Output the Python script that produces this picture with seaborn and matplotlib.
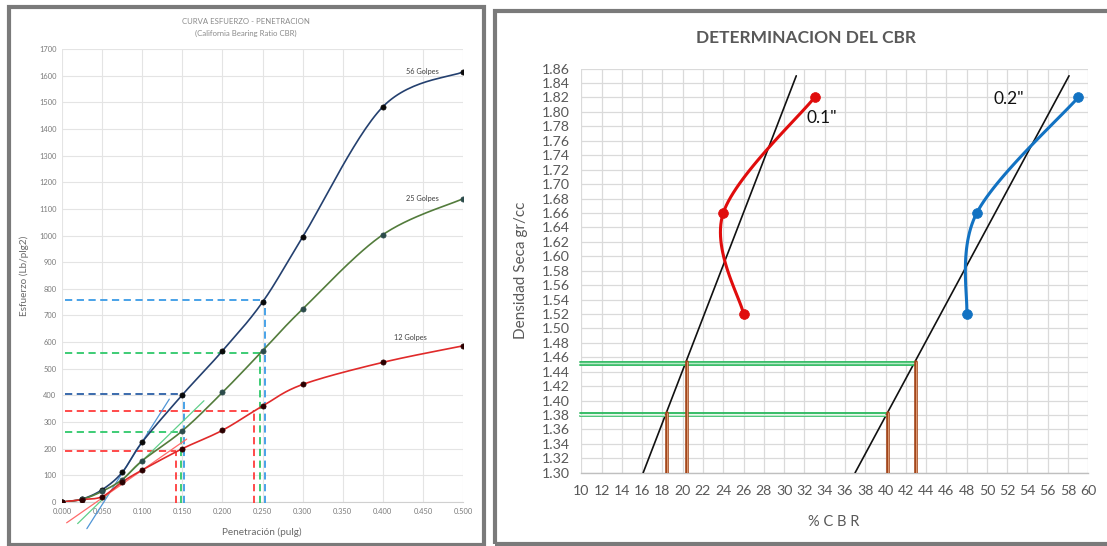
import matplotlib.pyplot as plt;
import numpy as np;
import pandas as pd;
import seaborn as sns;

from matplotlib.patches import Rectangle;

# ---------------- data: curva esfuerzo - penetracion ----------------
penetracion = [0.0, 0.025, 0.05, 0.075, 0.1, 0.15, 0.2, 0.25, 0.3, 0.4, 0.5];
esfuerzo_56 = [0, 11, 46, 111, 225, 402, 567, 750, 994, 1483, 1614];
esfuerzo_25 = [0, 10, 40, 84, 155, 267, 411, 567, 724, 1003, 1138];
esfuerzo_12 = [0, 9, 20, 75, 120, 200, 269, 360, 441, 524, 586];
golpes_labels = ['56 Golpes', '25 Golpes', '12 Golpes'];
golpes_label_pos = [(0.450, 1617), (0.449, 1138), (0.435, 618)];

# dashed reading lines (x, y) and tangent corrections ((x0, y0), (x1, y1))
lectura_x = [0.2525, 0.2467, 0.1522, 0.2400, 0.1480, 0.1418];
lectura_y = [759, 559, 407, 342, 264, 190];
tangente_56 = [(0.031, -100), (0.1338, 386)];
tangente_25 = [(0.0195, -81), (0.177, 380)];
tangente_12 = [(0.0058, -78), (0.1555, 236)];

# ---------------- data: determinacion del CBR ----------------
densidad = [1.52, 1.66, 1.82];
cbr_01 = [26, 24, 33];
cbr_02 = [48, 49, 59];
recta_01 = [(16.1, 1.30), (31.2, 1.85)];
recta_02 = [(37.0, 1.30), (58.1, 1.85)];
densidad_lectura = [1.4515, 1.3805];
cbr_lectura_01 = [20.44, 18.46];
cbr_lectura_02 = [43.0, 40.2];


def excel_smooth(xs, ys, sx, sy, n = 30):
    # bezier smoothing like the spreadsheet "smoothed line", done in pixel space
    p = np.column_stack([np.asarray(xs, float) * sx, np.asarray(ys, float) * sy]);
    out = [p[0]];
    t = np.linspace(0, 1, n)[1:, None];
    for i in range(len(p) - 1):
        p0 = p[max(i - 1, 0)]; p1 = p[i]; p2 = p[i + 1]; p3 = p[min(i + 2, len(p) - 1)];
        c1 = p1 + (p2 - p0) / 6; c2 = p2 - (p3 - p1) / 6;
        seg = (1 - t) ** 3 * p1 + 3 * (1 - t) ** 2 * t * c1 + 3 * (1 - t) * t ** 2 * c2 + t ** 3 * p2;
        out.extend(seg);
    out = np.array(out);
    return out[:, 0] / sx, out[:, 1] / sy;


sns.set_style('white');
plt.rcParams['font.family'] = ['Lato', 'DejaVu Sans'];

fig = plt.figure(figsize=(11.07, 5.46), dpi=100);
W = 1107; H = 546;

# gray frames of both panels
for (x0, y0, x1, y1) in [(9, 7, 484, 544.5), (495.3, 11.3, 1112, 544)]:
    fig.patches.append(Rectangle(
        (x0 / W, 1 - y1 / H), (x1 - x0) / W, (y1 - y0) / H,
        transform=fig.transFigure, fill=False, edgecolor='#7a7a7a', linewidth=3,
    ));

# ================= left chart =================
ax1 = fig.add_axes([62 / W, 1 - 502 / H, 401 / W, 453 / H]);
sx1 = 401 / 0.5; sy1 = 453 / 1700;

series = [
    (esfuerzo_56, '#24406f', '#0a0a0a'),
    (esfuerzo_25, '#537c3c', '#2c4b4b'),
    (esfuerzo_12, '#e02a2a', '#2a0000'),
];
for values, line_color, marker_color in series:
    cx, cy = excel_smooth(penetracion, values, sx1, sy1);
    sns.lineplot(x=cx, y=cy, sort=False, estimator=None, color=line_color, linewidth=1.2, ax=ax1, zorder=4);
    sns.scatterplot(x=penetracion, y=values, s=14, color=marker_color, edgecolor=marker_color, linewidth=0.5, ax=ax1, zorder=5);

is_dash = {'linewidth': 1.3, 'dashes': (4, 2.5), 'zorder': 3};
h_colors = ['#3a9be6', '#2ec86a', '#2b5fa6', '#ff3b3b', '#2ec86a', '#ff3b3b'];
v_colors = ['#3a9be6', '#2ec86a', '#3a9be6', '#ff3b3b', '#2ec86a', '#ff3b3b'];
for lx, ly, hc, vc in zip(lectura_x, lectura_y, h_colors, v_colors):
    ax1.plot([0.004, lx], [ly, ly], color=hc, **is_dash);
    ax1.plot([lx, lx], [-4, ly], color=vc, clip_on=False, **is_dash);

for tang, tc in [(tangente_56, '#4f95d6'), (tangente_25, '#5fcf8a'), (tangente_12, '#ff6a6a')]:
    ax1.plot([tang[0][0], tang[1][0]], [tang[0][1], tang[1][1]], color=tc, linewidth=0.9, clip_on=False, zorder=3);

for label, (lx, ly) in zip(golpes_labels, golpes_label_pos):
    ax1.text(lx, ly, label, fontsize=5.3, color='#404040', ha='center', va='center');

ax1.set_xlim(0, 0.5);
ax1.set_ylim(0, 1700);
x_ticks = np.arange(0, 0.5001, 0.05);
ax1.set_xticks(x_ticks);
ax1.set_xticklabels([f'{v:.3f}' for v in x_ticks]);
y_ticks = np.arange(0, 1701, 100);
ax1.set_yticks(y_ticks);
ax1.set_yticklabels([f'{int(v)}' for v in y_ticks]);
ax1.tick_params(length=0, labelsize=5.4, labelcolor='#7a7a7a', pad=4);
ax1.grid(True, color='#e4e4e4', linewidth=0.8);
ax1.set_axisbelow(True);
for side in ['top', 'right', 'left']:
    ax1.spines[side].set_visible(False);
ax1.spines['bottom'].set_color('#d0d0d0');
ax1.spines['bottom'].set_linewidth(0.8);
ax1.set_xlabel('Penetración (pulg)', fontsize=7.2, color='#6a6a6a');
ax1.set_ylabel('Esfuerzo (Lb/plg2)', fontsize=7.2, color='#6a6a6a');
ax1.xaxis.set_label_coords(0.499, -0.057);
ax1.yaxis.set_label_coords(-0.082, 0.499);

fig.text(246 / W, 1 - 22 / H, 'CURVA ESFUERZO - PENETRACION', fontsize=5.6, color='#8a8a8a', ha='center', va='center');
fig.text(246 / W, 1 - 33 / H, '(California Bearing Ratio CBR)', fontsize=5.6, color='#8a8a8a', ha='center', va='center');

# ================= right chart =================
ax2 = fig.add_axes([581.3 / W, 1 - 472.8 / H, 507 / W, 404.2 / H]);
sx2 = 507 / 50; sy2 = 404.2 / 0.56;

for values, color in [(cbr_01, '#e00c0c'), (cbr_02, '#1272c2')]:
    cx, cy = excel_smooth(values, densidad, sx2, sy2);
    sns.lineplot(x=cx, y=cy, sort=False, estimator=None, color=color, linewidth=2.2, ax=ax2, zorder=4);
    sns.scatterplot(x=values, y=densidad, s=50, color=color, edgecolor=color, linewidth=0.5, ax=ax2, zorder=5);

for recta in [recta_01, recta_02]:
    ax2.plot([recta[0][0], recta[1][0]], [recta[0][1], recta[1][1]], color='#111111', linewidth=1.2, zorder=3);

for dy, x_end in zip(densidad_lectura, [cbr_lectura_02[0], cbr_lectura_02[1]]):
    for off in (0.0022, -0.0022):
        ax2.plot([9.85, x_end], [dy + off, dy + off], color='#29b85c', linewidth=1.3, clip_on=False, zorder=3);
    ax2.plot([9.85, x_end], [dy, dy], color='#b9ebc9', linewidth=1.0, clip_on=False, zorder=3);

for cx, top in zip(cbr_lectura_01 + cbr_lectura_02, densidad_lectura + densidad_lectura):
    ax2.plot([cx, cx], [1.30, top + 0.002], color='#a3451a', linewidth=2.6, zorder=3);
    ax2.plot([cx, cx], [1.30, top + 0.002], color='#dc9a72', linewidth=0.7, zorder=3);

ax2.text(32.2, 1.792, '0.1"', fontsize=12.5, color='#111111', ha='left', va='center');
ax2.text(50.7, 1.818, '0.2"', fontsize=12.5, color='#111111', ha='left', va='center');

ax2.set_xlim(10, 60);
ax2.set_ylim(1.30, 1.86);
cx_ticks = np.arange(10, 61, 2);
ax2.set_xticks(cx_ticks);
ax2.set_xticklabels([f'{v}' for v in cx_ticks]);
cy_ticks = np.round(np.arange(1.30, 1.8601, 0.02), 2);
ax2.set_yticks(cy_ticks);
ax2.set_yticklabels([f'{v:.2f}' for v in cy_ticks]);
ax2.tick_params(length=0, labelsize=10.2, labelcolor='#595959', pad=8.5);
ax2.grid(True, color='#dadada', linewidth=0.9);
ax2.set_axisbelow(True);
for side in ['top', 'right', 'left']:
    ax2.spines[side].set_visible(False);
ax2.spines['bottom'].set_color('#bfbfbf');
ax2.spines['bottom'].set_linewidth(1.0);
ax2.set_xlabel('% C B R', fontsize=10.5, color='#595959');
ax2.set_ylabel('Densidad Seca gr/cc', fontsize=11, color='#595959');
ax2.xaxis.set_label_coords(0.498, -0.104);
ax2.yaxis.set_label_coords(-0.105, 0.5);

fig.text(806 / W, 1 - 37.6 / H, 'DETERMINACION DEL CBR', fontsize=12.5, fontweight='bold', color='#595959', ha='center', va='center');

fig.savefig('out.png', dpi=100);
